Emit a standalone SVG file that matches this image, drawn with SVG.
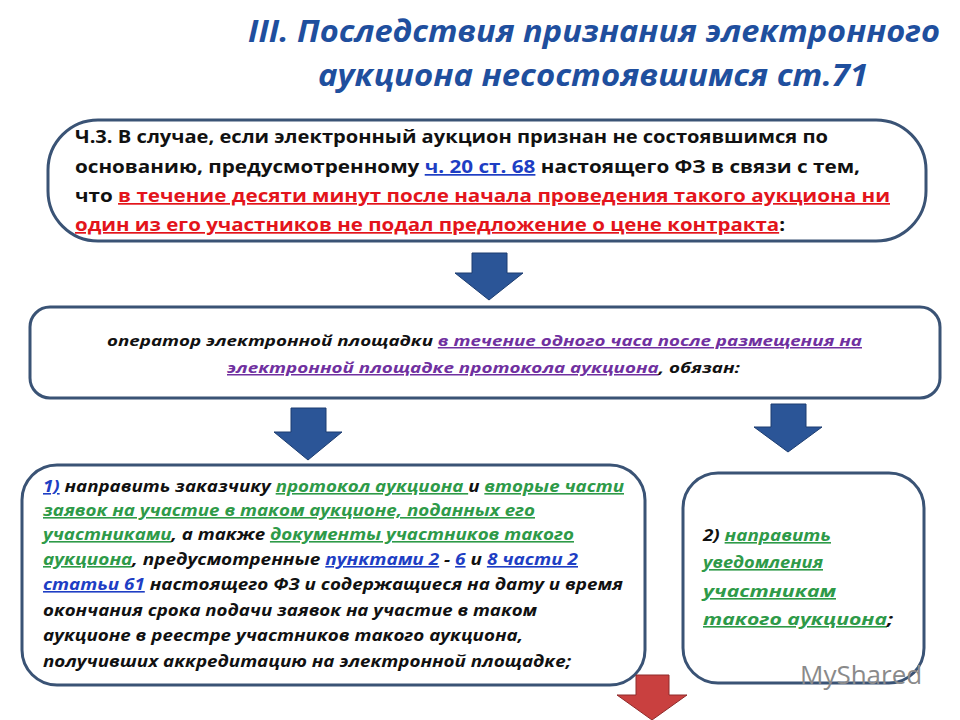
<svg xmlns="http://www.w3.org/2000/svg" width="960" height="720" viewBox="0 0 960 720">
<style>
.t{font-family:"Open Sans","Liberation Sans",sans-serif;font-weight:bold;fill:#111}
.i{font-style:italic}
.box{fill:#fff;stroke:#3a5375;stroke-width:3}
.r{fill:#e3141b;text-decoration:underline}
.b{fill:#1e3ec4;text-decoration:underline}
.g{fill:#2e9a48;text-decoration:underline}
.p{fill:#7030a0;text-decoration:underline}
.ab{fill:#2b5597;stroke:#1d3d70;stroke-width:1}
.ar{fill:#c9403f;stroke:#8f2a2a;stroke-width:1}
</style>
<rect width="960" height="720" fill="#fff"/>
<g id="title" class="t i" style="fill:#1f4f9e" font-size="31">
<text x="248" y="42" textLength="692" lengthAdjust="spacingAndGlyphs">III. Последствия признания электронного</text>
<text x="318" y="86" textLength="550" lengthAdjust="spacingAndGlyphs">аукциона несостоявшимся ст.71</text>
</g>
<g id="n1">
<rect class="box" x="48" y="120" width="878" height="121" rx="50"/>
<g class="t" font-size="17">
<text x="75" y="143" textLength="753" lengthAdjust="spacingAndGlyphs">Ч.3. В случае, если электронный аукцион признан не состоявшимся по</text>
<text x="75" y="173" textLength="785" lengthAdjust="spacingAndGlyphs">основанию, предусмотренному <tspan class="b">ч. 20 ст. 68</tspan> настоящего ФЗ в связи с тем,</text>
<text x="75" y="202" textLength="815" lengthAdjust="spacingAndGlyphs">что <tspan class="r">в течение десяти минут после начала проведения такого аукциона ни</tspan></text>
<text x="75" y="231" textLength="710" lengthAdjust="spacingAndGlyphs"><tspan class="r">один из его участников не подал предложение о цене контракта</tspan>:</text>
</g>
</g>
<g id="n2">
<rect class="box" x="30" y="307" width="910" height="91" rx="20"/>
<g class="t i" font-size="15">
<text x="107" y="346" textLength="755" lengthAdjust="spacingAndGlyphs">оператор электронной площадки <tspan class="p">в течение одного часа после размещения на</tspan></text>
<text x="227" y="373" textLength="513" lengthAdjust="spacingAndGlyphs"><tspan class="p">электронной площадке протокола аукциона</tspan>, обязан:</text>
</g>
</g>
<g id="n3">
<rect class="box" x="22" y="465" width="623" height="220" rx="35"/>
<g class="t i" font-size="16">
<text x="43" y="492" textLength="581" lengthAdjust="spacingAndGlyphs"><tspan class="b">1)</tspan> направить заказчику <tspan class="g">протокол аукциона </tspan>и <tspan class="g">вторые части</tspan></text>
<text x="43" y="516" textLength="492" lengthAdjust="spacingAndGlyphs"><tspan class="g">заявок на участие в таком аукционе, поданных его</tspan></text>
<text x="43" y="540" textLength="531" lengthAdjust="spacingAndGlyphs"><tspan class="g">участниками</tspan>, а также <tspan class="g">документы участников такого</tspan></text>
<text x="43" y="565" textLength="535" lengthAdjust="spacingAndGlyphs"><tspan class="g">аукциона</tspan>, предусмотренные <tspan class="b">пунктами 2</tspan> - <tspan class="b">6</tspan> и <tspan class="b">8 части 2</tspan></text>
<text x="43" y="590" textLength="580" lengthAdjust="spacingAndGlyphs"><tspan class="b">статьи 61</tspan> настоящего ФЗ и содержащиеся на дату и время</text>
<text x="43" y="616" textLength="494" lengthAdjust="spacingAndGlyphs">окончания срока подачи заявок на участие в таком</text>
<text x="43" y="641" textLength="480" lengthAdjust="spacingAndGlyphs">аукционе в реестре участников такого аукциона,</text>
<text x="43" y="667" textLength="528" lengthAdjust="spacingAndGlyphs">получивших аккредитацию на электронной площадке;</text>
</g>
</g>
<g id="n4">
<rect class="box" x="683" y="473" width="241" height="210" rx="35"/>
<g class="t i" font-size="16">
<text x="703" y="541" textLength="128" lengthAdjust="spacingAndGlyphs">2) <tspan class="g">направить</tspan></text>
<text x="703" y="568" textLength="120" lengthAdjust="spacingAndGlyphs"><tspan class="g">уведомления</tspan></text>
<text x="703" y="597" textLength="133" lengthAdjust="spacingAndGlyphs"><tspan class="g">участникам</tspan></text>
<text x="703" y="625" textLength="190" lengthAdjust="spacingAndGlyphs"><tspan class="g">такого аукциона</tspan>;</text>
</g>
</g>
<g id="connectors">
<polygon class="ab" points="472,253 507,253 507,273 523,273 489,300 455,273 472,273"/>
<polygon class="ab" points="291,408 326,408 326,432 342,432 308,460 274,432 291,432"/>
<polygon class="ab" points="771,404 806,404 806,427 822,427 788,452 754,427 771,427"/>
<polygon class="ar" points="636,675 669,675 669,695 687,695 652,720 617,695 636,695"/>
</g>
<text x="800" y="684" font-family="Open Sans, Liberation Sans, sans-serif" font-size="26" fill="#8a8a8a">MyShared</text>
</svg>
